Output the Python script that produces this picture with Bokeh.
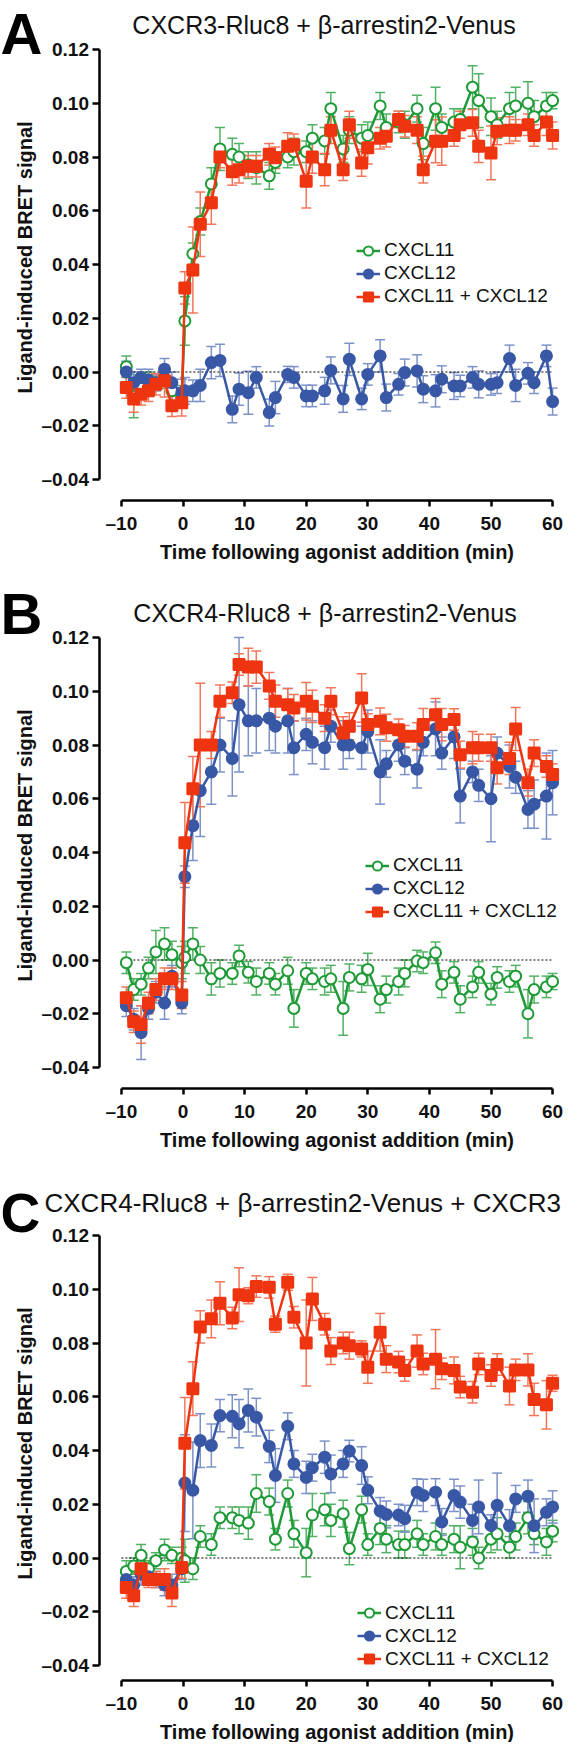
import math
from bokeh.plotting import figure
from bokeh.models import (Range1d, FixedTicker, Whisker, TeeHead, ColumnDataSource,
                          Legend, LegendItem, Label)
from bokeh.layouts import column
from bokeh.embed import file_html
from bokeh.resources import INLINE

FONT = "Liberation Sans"

# ---------------- data ----------------
time_min = [-9.2, -8.0, -6.8, -5.6, -4.4, -3.0, -1.8, -0.2,
            0.3, 1.6, 2.8, 4.6, 6.0, 8.0, 9.1, 10.6, 11.9,
            14, 15, 17, 18, 20, 21, 23, 24, 26, 27, 29, 30, 32, 33, 35, 36,
            38, 39, 41, 42, 44, 45, 47, 48, 50, 51, 53, 54, 56, 57, 59, 60]

series_names = ["CXCL11", "CXCL12", "CXCL11 + CXCL12"]
panel_letters = ["A", "B", "C"]
panel_titles = ["CXCR3-Rluc8 + \u03b2-arrestin2-Venus",
                "CXCR4-Rluc8 + \u03b2-arrestin2-Venus",
                "CXCR4-Rluc8 + \u03b2-arrestin2-Venus + CXCR3"]
y_axis_title = "Ligand-induced BRET signal"
x_axis_title = "Time following agonist addition (min)"

x_ticks = [-10, 0, 10, 20, 30, 40, 50, 60]
x_tick_labels = ["\u201310", "0", "10", "20", "30", "40", "50", "60"]
y_ticks = [-0.04, -0.02, 0.0, 0.02, 0.04, 0.06, 0.08, 0.10, 0.12]
y_tick_labels = ["\u20130.04", "\u20130.02", "0.00", "0.02", "0.04", "0.06", "0.08", "0.10", "0.12"]

# Panel A: CXCR3-Rluc8 + beta-arrestin2-Venus
A_cxcl11 = [0.002, -0.009, -0.006, -0.003, -0.004, -0.003, -0.007, -0.009,
            0.019, 0.044, 0.056, 0.070, 0.083, 0.081, 0.080, 0.077, 0.076,
            0.073, 0.078, 0.080, 0.082, 0.082, 0.087, 0.086, 0.098, 0.083, 0.090,
            0.087, 0.088, 0.099, 0.091, 0.093, 0.092, 0.098, 0.085, 0.098, 0.091,
            0.093, 0.094, 0.106, 0.101, 0.095, 0.092, 0.098, 0.099, 0.100, 0.095, 0.099, 0.101]
A_cxcl11_err = [0.004, 0.008, 0.004, 0.003, 0.003, 0.003, 0.004, 0.004,
                0.009, 0.004, 0.005, 0.006, 0.008, 0.006, 0.005, 0.005, 0.006,
                0.005, 0.004, 0.004, 0.005, 0.004, 0.005, 0.005, 0.006, 0.005, 0.005,
                0.005, 0.005, 0.005, 0.005, 0.004, 0.005, 0.005, 0.006, 0.008, 0.005,
                0.005, 0.004, 0.008, 0.010, 0.007, 0.005, 0.006, 0.007, 0.008, 0.006, 0.005, 0.003]
A_cxcl12 = [0.000, -0.004, -0.002, -0.003, -0.004, 0.001, -0.004, -0.0077,
            -0.007, -0.007, -0.005, 0.0035, 0.0043, -0.0139, -0.0064, -0.0077, -0.002,
            -0.0151, -0.0095, -0.0009, -0.002, -0.0089, -0.0089, -0.007, 0.0006, -0.010, 0.0047,
            -0.010, -0.0009, 0.006, -0.0095, -0.0046, -0.0002, 0.0004, -0.0064, -0.007, -0.0027,
            -0.0052, -0.0052, -0.002, -0.0046, -0.0046, -0.004, 0.005, -0.005, -0.0005, -0.004, 0.006, -0.011]
A_cxcl12_err = [0.004, 0.004, 0.003, 0.004, 0.003, 0.004, 0.004, 0.005,
                0.005, 0.004, 0.006, 0.006, 0.006, 0.005, 0.006, 0.008, 0.004,
                0.005, 0.006, 0.003, 0.004, 0.004, 0.004, 0.005, 0.005, 0.005, 0.006,
                0.004, 0.004, 0.006, 0.005, 0.004, 0.005, 0.006, 0.005, 0.006, 0.005,
                0.005, 0.004, 0.004, 0.005, 0.004, 0.004, 0.005, 0.006, 0.004, 0.004, 0.004, 0.005]
A_both = [-0.0058, -0.010, -0.0083, -0.007, -0.0046, -0.0033, -0.0126, -0.0114,
          0.0313, 0.038, 0.055, 0.063, 0.080, 0.0745, 0.0753, 0.0766, 0.0766,
          0.081, 0.0797, 0.084, 0.0846, 0.071, 0.080, 0.0753, 0.090, 0.0753, 0.092,
          0.0778, 0.0834, 0.087, 0.0877, 0.094, 0.0914, 0.090, 0.0753, 0.0859, 0.0859,
          0.088, 0.092, 0.0927, 0.084, 0.0815, 0.0896, 0.090, 0.090, 0.092, 0.088, 0.093, 0.088]
A_both_err = [0.004, 0.005, 0.004, 0.004, 0.004, 0.006, 0.004, 0.005,
              0.006, 0.016, 0.012, 0.008, 0.004, 0.005, 0.005, 0.004, 0.004,
              0.004, 0.004, 0.005, 0.004, 0.010, 0.006, 0.006, 0.005, 0.004, 0.005,
              0.005, 0.006, 0.004, 0.004, 0.003, 0.004, 0.005, 0.005, 0.008, 0.009,
              0.004, 0.005, 0.005, 0.006, 0.010, 0.005, 0.005, 0.004, 0.004, 0.004, 0.005, 0.005]

# Panel B: CXCR4-Rluc8 + beta-arrestin2-Venus
B_cxcl11 = [-0.001, -0.011, -0.009, -0.003, 0.003, 0.006, 0.002, -0.001,
            0.001, 0.006, 0.000, -0.007, -0.005, -0.005, 0.0015, -0.0046, -0.008,
            -0.005, -0.009, -0.004, -0.018, -0.005, -0.007, -0.008, -0.007, -0.018, -0.0065,
            -0.007, -0.0035, -0.0146, -0.011, -0.008, -0.005, -0.0004, -0.001, 0.0027, -0.009,
            -0.0046, -0.0146, -0.010, -0.0046, -0.0127, -0.0065, -0.008, -0.006, -0.020, -0.011, -0.010, -0.008]
B_cxcl11_err = [0.004, 0.004, 0.004, 0.004, 0.008, 0.006, 0.005, 0.006,
                0.006, 0.006, 0.005, 0.006, 0.005, 0.004, 0.004, 0.004, 0.005,
                0.004, 0.004, 0.005, 0.007, 0.004, 0.004, 0.005, 0.005, 0.010, 0.005,
                0.005, 0.006, 0.005, 0.005, 0.005, 0.005, 0.004, 0.004, 0.004, 0.005,
                0.004, 0.005, 0.004, 0.004, 0.004, 0.004, 0.004, 0.004, 0.009, 0.005, 0.004, 0.003]
B_cxcl12 = [-0.017, -0.022, -0.027, -0.018, -0.012, -0.016, -0.006, -0.016,
            0.031, 0.050, 0.063, 0.070, 0.080, 0.075, 0.095, 0.089, 0.089,
            0.090, 0.087, 0.089, 0.079, 0.084, 0.081, 0.079, 0.087, 0.080, 0.080,
            0.079, 0.085, 0.070, 0.073, 0.080, 0.074, 0.071, 0.081, 0.086, 0.077,
            0.083, 0.061, 0.070, 0.065, 0.060, 0.077, 0.072, 0.068, 0.056, 0.058, 0.061, 0.066]
B_cxcl12_err = [0.004, 0.004, 0.010, 0.004, 0.004, 0.006, 0.004, 0.004,
                0.004, 0.013, 0.017, 0.012, 0.010, 0.014, 0.025, 0.013, 0.012,
                0.012, 0.010, 0.012, 0.010, 0.006, 0.008, 0.008, 0.006, 0.009, 0.005,
                0.008, 0.008, 0.012, 0.005, 0.006, 0.005, 0.007, 0.005, 0.010, 0.006,
                0.008, 0.010, 0.004, 0.006, 0.016, 0.006, 0.008, 0.006, 0.007, 0.009, 0.016, 0.012]
B_both = [-0.014, -0.023, -0.024, -0.016, -0.011, -0.007, -0.007, -0.013,
          0.0436, 0.0637, 0.080, 0.080, 0.0963, 0.0994, 0.110, 0.109, 0.109,
          0.102, 0.0963, 0.095, 0.0938, 0.0963, 0.0944, 0.090, 0.0963, 0.0845, 0.087,
          0.0975, 0.0876, 0.0888, 0.0864, 0.0857, 0.0833, 0.0833, 0.0876, 0.0913, 0.0876,
          0.0895, 0.0764, 0.079, 0.079, 0.079, 0.0715, 0.075, 0.086, 0.066, 0.077, 0.072, 0.069]
B_both_err = [0.004, 0.004, 0.007, 0.004, 0.004, 0.004, 0.004, 0.005,
              0.015, 0.012, 0.023, 0.005, 0.006, 0.004, 0.004, 0.007, 0.006,
              0.005, 0.006, 0.006, 0.005, 0.007, 0.006, 0.005, 0.005, 0.006, 0.005,
              0.009, 0.004, 0.005, 0.005, 0.004, 0.004, 0.005, 0.006, 0.006, 0.006,
              0.004, 0.005, 0.006, 0.005, 0.005, 0.006, 0.006, 0.008, 0.005, 0.005, 0.004, 0.004]

# Panel C: CXCR4-Rluc8 + beta-arrestin2-Venus + CXCR3
C_cxcl11 = [-0.005, -0.003, 0.001, -0.004, -0.001, 0.003, 0.001, 0.000,
            -0.001, -0.004, 0.008, 0.005, 0.015, 0.015, 0.014, 0.013, 0.024,
            0.021, 0.007, 0.024, 0.009, 0.002, 0.016, 0.018, 0.014, 0.0165, 0.0035,
            0.018, 0.005, 0.011, 0.007, 0.005, 0.005, 0.009, 0.005, 0.008, 0.005,
            0.007, 0.004, 0.006, 0.000, 0.007, 0.009, 0.004, 0.008, 0.015, 0.009, 0.006, 0.010]
C_cxcl11_err = [0.004, 0.003, 0.004, 0.003, 0.003, 0.004, 0.003, 0.004,
                0.008, 0.004, 0.004, 0.004, 0.004, 0.004, 0.005, 0.006, 0.007,
                0.005, 0.004, 0.005, 0.005, 0.009, 0.008, 0.006, 0.006, 0.005, 0.006,
                0.005, 0.004, 0.006, 0.005, 0.005, 0.005, 0.005, 0.004, 0.005, 0.004,
                0.005, 0.008, 0.005, 0.004, 0.005, 0.006, 0.004, 0.005, 0.006, 0.004, 0.005, 0.004]
C_cxcl12 = [-0.008, -0.010, -0.006, -0.007, -0.008, -0.010, -0.010, -0.004,
            0.0279, 0.0252, 0.0437, 0.0419, 0.053, 0.0527, 0.050, 0.0549, 0.0524,
            0.0415, 0.0307, 0.049, 0.035, 0.030, 0.0336, 0.0375, 0.0313, 0.035, 0.0398,
            0.0344, 0.0252, 0.0175, 0.0162, 0.016, 0.0146, 0.0245, 0.0233, 0.0245, 0.0134,
            0.0233, 0.0208, 0.014, 0.019, 0.0121, 0.0196, 0.012, 0.022, 0.023, 0.012, 0.017, 0.019]
C_cxcl12_err = [0.004, 0.003, 0.004, 0.003, 0.003, 0.004, 0.004, 0.004,
                0.018, 0.018, 0.010, 0.008, 0.006, 0.008, 0.009, 0.008, 0.007,
                0.006, 0.010, 0.005, 0.005, 0.006, 0.005, 0.006, 0.007, 0.005, 0.004,
                0.007, 0.005, 0.005, 0.005, 0.004, 0.005, 0.005, 0.006, 0.005, 0.005,
                0.006, 0.006, 0.006, 0.010, 0.004, 0.012, 0.006, 0.005, 0.006, 0.010, 0.005, 0.006]
C_both = [-0.011, -0.014, -0.004, -0.008, -0.008, -0.008, -0.013, -0.0035,
          0.0427, 0.063, 0.086, 0.089, 0.0948, 0.0893, 0.098, 0.0976, 0.101,
          0.1007, 0.087, 0.1026, 0.0896, 0.080, 0.0964, 0.087, 0.077, 0.080, 0.079,
          0.0778, 0.071, 0.084, 0.074, 0.0729, 0.0698, 0.077, 0.0722, 0.074, 0.0704,
          0.0698, 0.0636, 0.0617, 0.0722, 0.0679, 0.072, 0.064, 0.070, 0.070, 0.059, 0.057, 0.065]
C_both_err = [0.004, 0.004, 0.004, 0.003, 0.003, 0.004, 0.005, 0.004,
              0.017, 0.010, 0.006, 0.007, 0.008, 0.004, 0.010, 0.003, 0.004,
              0.004, 0.003, 0.003, 0.004, 0.016, 0.008, 0.004, 0.005, 0.004, 0.005,
              0.003, 0.006, 0.007, 0.005, 0.004, 0.004, 0.006, 0.004, 0.011, 0.004,
              0.005, 0.004, 0.004, 0.004, 0.004, 0.004, 0.007, 0.004, 0.006, 0.006, 0.009, 0.003]

for arr in [A_cxcl11, A_cxcl11_err, A_cxcl12, A_cxcl12_err, A_both, A_both_err,
            B_cxcl11, B_cxcl11_err, B_cxcl12, B_cxcl12_err, B_both, B_both_err,
            C_cxcl11, C_cxcl11_err, C_cxcl12, C_cxcl12_err, C_both, C_both_err]:
    assert len(arr) == len(time_min), len(arr)

# ---------------- style / geometry ----------------
COL_LINE = ["#1e9a36", "#3858a6", "#ef3410"]
COL_ERR = ["#52b263", "#7d92c8", "#f3765a"]
MARKERS = ["circle", "circle", "square"]
FILLS = ["white", COL_LINE[1], COL_LINE[2]]
TXT = "#111111"

FIG_W = 570
PAGE_X0 = 8            # horizontal page offset of the layout
PX_PER_MIN = 6.16
X_M10_PAGE = 128.9     # page x of t = -10
YAXIS_PAGE = 106.5     # page x of the (offset) y-axis line
PX_PER_UNIT = 430.0 / 0.16


def make_panel(letter, letter_size, letter_cy, title, title_size, title_x, title_align,
               title_cy, vals, errs, leg_left, leg_bottom, ylab_cy,
               top, bottom, y012, xaxis_y):
    h = bottom - top
    x_left = -10 - (X_M10_PAGE - PAGE_X0) / PX_PER_MIN
    x_right = x_left + FIG_W / PX_PER_MIN
    y_top = 0.12 + (y012 - top) / PX_PER_UNIT
    y_bot = 0.12 - (bottom - y012) / PX_PER_UNIT
    p = figure(width=FIG_W, height=h, title=None,
               x_range=Range1d(x_left, x_right), y_range=Range1d(y_bot, y_top),
               output_backend="svg", toolbar_location=None,
               min_border=0, min_border_left=0, min_border_right=0,
               min_border_top=0, min_border_bottom=0)
    p.outline_line_color = None
    p.grid.visible = False
    p.background_fill_color = "white"
    p.border_fill_color = "white"

    def sx(page_x):
        return page_x - PAGE_X0

    def sy(page_y):
        return bottom - page_y

    xa = p.xaxis[0]
    xa.ticker = FixedTicker(ticks=x_ticks)
    xa.major_label_overrides = dict(zip(x_ticks, x_tick_labels))
    xa.bounds = (x_ticks[0], x_ticks[-1])
    xa.fixed_location = 0.12 - (xaxis_y - y012) / PX_PER_UNIT
    ya = p.yaxis[0]
    ya.ticker = FixedTicker(ticks=y_ticks)
    ya.major_label_overrides = dict(zip(y_ticks, y_tick_labels))
    ya.bounds = (y_ticks[0], y_ticks[-1])
    ya.fixed_location = -10 - (X_M10_PAGE - YAXIS_PAGE) / PX_PER_MIN
    for ax in (xa, ya):
        ax.axis_line_width = 2.5
        ax.axis_line_color = "black"
        ax.major_tick_line_width = 2.5
        ax.major_tick_line_color = "black"
        ax.major_tick_in = 0
        ax.minor_tick_in = 0
        ax.minor_tick_out = 0
        ax.major_label_text_font = FONT
        ax.major_label_text_font_size = "19px"
        ax.major_label_text_font_style = "bold"
        ax.major_label_text_color = TXT
    xa.major_tick_out = 6
    xa.major_label_standoff = 6
    ya.major_tick_out = 7
    ya.major_label_standoff = 3
    xa.axis_label = x_axis_title
    xa.axis_label_text_font = FONT
    xa.axis_label_text_font_size = "20px"
    xa.axis_label_text_font_style = "bold"
    xa.axis_label_text_color = TXT
    xa.axis_label_standoff = 4

    # dotted zero reference line along the x-axis extent
    p.line([x_ticks[0], x_ticks[-1]], [0, 0], line_color="black",
           line_width=1.2, line_dash="2 2")

    items = []
    for i in range(3):
        v, e = vals[i], errs[i]
        src = ColumnDataSource(dict(t=time_min, v=v,
                                    lo=[a - b for a, b in zip(v, e)],
                                    hi=[a + b for a, b in zip(v, e)]))
        w = Whisker(source=src, base="t", lower="lo", upper="hi",
                    line_color=COL_ERR[i], line_width=1.5,
                    upper_head=TeeHead(size=10, line_color=COL_ERR[i], line_width=1.5),
                    lower_head=TeeHead(size=10, line_color=COL_ERR[i], line_width=1.5))
        p.add_layout(w)
        ln = p.line("t", "v", source=src, line_color=COL_LINE[i], line_width=2.5)
        sc = p.scatter("t", "v", source=src, marker=MARKERS[i], size=11,
                       fill_color=FILLS[i], line_color=COL_LINE[i], line_width=2)
        items.append(LegendItem(label=series_names[i], renderers=[ln, sc]))

    leg = Legend(items=items, location=(sx(leg_left), sy(leg_bottom)),
                 border_line_color=None, background_fill_alpha=0,
                 padding=0, margin=0, spacing=0,
                 glyph_width=24, glyph_height=23, label_height=23, label_standoff=4,
                 label_text_font=FONT, label_text_font_size="19px",
                 label_text_color=TXT)
    p.add_layout(leg)

    # panel letter
    p.add_layout(Label(x=sx(PAGE_X0), y=sy(letter_cy), x_units="screen", y_units="screen",
                       text=letter, text_font=FONT, text_font_size=letter_size,
                       text_font_style="bold", text_color="black",
                       text_align="left", text_baseline="middle"))
    # panel title
    p.add_layout(Label(x=sx(title_x), y=sy(title_cy), x_units="screen", y_units="screen",
                       text=title, text_font=FONT, text_font_size=title_size,
                       text_color=TXT, text_align=title_align, text_baseline="middle"))
    # y-axis title
    p.add_layout(Label(x=sx(32), y=sy(ylab_cy), x_units="screen", y_units="screen",
                       text=y_axis_title, angle=math.pi / 2,
                       text_font=FONT, text_font_size="20px", text_font_style="bold",
                       text_color=TXT, text_align="center", text_baseline="middle"))
    return p


pA = make_panel(panel_letters[0], "58px", 33, panel_titles[0], "25px", 331.5, "center", 24.5,
                [A_cxcl11, A_cxcl12, A_both], [A_cxcl11_err, A_cxcl12_err, A_both_err],
                364, 307.5, 257,
                top=0, bottom=580, y012=49, xaxis_y=500)
pB = make_panel(panel_letters[1], "58px", 613, panel_titles[1], "25px", 332.5, "center", 612,
                [B_cxcl11, B_cxcl12, B_both], [B_cxcl11_err, B_cxcl12_err, B_both_err],
                373, 922.5, 845,
                top=580, bottom=1180, y012=637, xaxis_y=1088)
pC = make_panel(panel_letters[2], "55px", 1212, panel_titles[2], "26px", 52, "left", 1202,
                [C_cxcl11, C_cxcl12, C_both], [C_cxcl11_err, C_cxcl12_err, C_both_err],
                365, 1670, 1443,
                top=1180, bottom=1742, y012=1235, xaxis_y=1680)

layout = column(pA, pB, pC, spacing=0)
open("out.html", "w").write(file_html(layout, INLINE))
